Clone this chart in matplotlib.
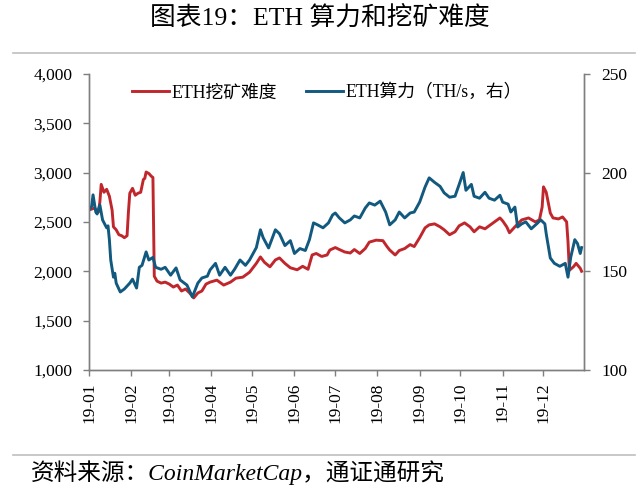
import numpy as np
import matplotlib
matplotlib.use("Agg")
import matplotlib.pyplot as plt
from matplotlib.ticker import FuncFormatter, MultipleLocator

plt.rcParams['font.family'] = ['Liberation Serif', 'Noto Sans CJK SC', 'DejaVu Sans']

# ETH mining difficulty (left axis), day offset from 2019-01-01
diff_days = [0, 4, 7, 8, 9, 11, 13, 15, 17, 18, 20, 22, 24, 26, 28, 29, 30, 32, 34, 36,
             38, 40, 41, 42, 44, 46, 47, 48, 50, 53, 56, 59, 62, 65, 68, 71, 74, 77, 80,
             83, 86, 89, 94, 99, 104, 108, 113, 118, 123, 126, 129, 133, 137, 140, 144,
             148, 153, 157, 161, 164, 167, 171, 175, 177, 181, 184, 188, 192, 195, 199,
             203, 206, 211, 216, 219, 221, 225, 228, 232, 236, 239, 243, 247, 250, 254,
             258, 261, 265, 269, 272, 276, 280, 283, 287, 291, 294, 298, 302, 304, 307,
             309, 313, 318, 323, 328, 331, 333, 334, 336, 339, 341, 345, 348, 351, 352,
             353, 356, 358, 361, 362]
diff_vals = [2620, 2640, 2600, 2700, 2880, 2800, 2830, 2760, 2620, 2450, 2420, 2370, 2360,
             2340, 2360, 2600, 2790, 2840, 2770, 2790, 2800, 2930, 2940, 3005, 2990, 2960,
             2950, 1950, 1900, 1880, 1890, 1870, 1840, 1860, 1800, 1820, 1780, 1730, 1780,
             1800, 1870, 1890, 1910, 1860, 1890, 1930, 1940, 1990, 2080, 2145, 2090, 2045,
             2115, 2135, 2080, 2035, 2015, 2050, 2020, 2165, 2180, 2150, 2165, 2215, 2240,
             2220, 2195, 2185, 2220, 2180, 2230, 2295, 2315, 2310, 2250, 2215, 2165, 2210,
             2230, 2270, 2250, 2340, 2440, 2470, 2480, 2450, 2420, 2370, 2400, 2460, 2490,
             2450, 2400, 2450, 2430, 2460, 2500, 2540, 2510, 2450, 2390, 2450, 2520, 2540,
             2500, 2520, 2650, 2855, 2800, 2590, 2540, 2530, 2550, 2500, 2300, 2010, 2045,
             2080, 2030, 2000]

# ETH hashrate TH/s (right axis)
hash_days = [0, 2, 3, 5, 6, 8, 10, 13, 14, 15, 16, 18, 19, 20, 23, 26, 30, 32, 35, 37,
             39, 42, 44, 47, 49, 53, 56, 60, 64, 67, 72, 76, 80, 83, 87, 89, 93, 96, 100,
             104, 107, 111, 115, 118, 123, 126, 128, 132, 137, 140, 144, 148, 151, 155,
             159, 162, 165, 168, 172, 176, 179, 181, 184, 188, 192, 195, 199, 203, 206,
             210, 214, 218, 221, 225, 228, 232, 236, 239, 243, 247, 250, 254, 258, 261,
             265, 269, 272, 275, 277, 281, 283, 287, 291, 294, 298, 302, 304, 308, 310,
             313, 315, 318, 321, 325, 329, 332, 335, 336, 339, 342, 346, 350, 352, 354,
             357, 359, 361, 362]
hash_vals = [181, 183, 188.7, 180, 179, 183.6, 176, 172, 173, 166, 155.7, 147, 149, 144,
             139.5, 141, 144, 146, 141.5, 152, 153, 159.8, 155.7, 157, 152, 151, 152, 148,
             151.7, 145.6, 143, 137, 144, 146.6, 147.5, 150.7, 154, 148, 152, 148, 151,
             155.7, 153, 155.7, 162, 171, 167, 161.8, 171, 169, 163, 165.5, 159, 161.5,
             160.5, 166, 174.5, 173.5, 172, 174.5, 178.5, 179.5, 177, 174.5, 176, 178, 177,
             182, 184.6, 183.5, 185.5, 180, 173.5, 176, 180, 177, 179.5, 180, 185, 192.7,
             197.3, 195, 193, 189.7, 187.5, 188, 193.9, 200, 191, 194, 188, 187, 190, 187,
             186, 188.5, 185, 184, 180, 182.5, 172.4, 174, 175, 171.5, 174, 176, 174, 169,
             156.7, 154, 152.5, 154, 147, 157, 166, 164, 159, 162]

month_labels = ['19-01', '19-02', '19-03', '19-04', '19-05', '19-06',
                '19-07', '19-08', '19-09', '19-10', '19-11', '19-12']

start = np.datetime64('2019-01-01')
diff_dates = start + np.array(diff_days).astype('timedelta64[D]')
hash_dates = start + np.array(hash_days).astype('timedelta64[D]')

red = '#C0272D'
blue = '#11597F'
spine_c = '#7F7F7F'

fig = plt.figure(figsize=(6.4, 4.92), dpi=100)
ax = fig.add_axes([0.139, 0.248, 0.774, 0.602])
ax2 = ax.twinx()

l1, = ax.plot(diff_dates, diff_vals, color=red, lw=2.1, label='ETH挖矿难度')
l2, = ax2.plot(hash_dates, hash_vals, color=blue, lw=2.1, label='ETH算力（TH/s，右）')
ax2.set_zorder(ax.get_zorder() + 1)
ax.patch.set_visible(False)

ax.set_xlim(np.datetime64('2019-01-01'), np.datetime64('2019-12-31'))
ax.set_ylim(1000, 4000)
ax2.set_ylim(100, 250)
ax.yaxis.set_major_locator(MultipleLocator(500))
ax2.yaxis.set_major_locator(MultipleLocator(50))
ax.yaxis.set_major_formatter(FuncFormatter(lambda v, p: f'{int(v):,}'))

ticks = [np.datetime64(f'2019-{m:02d}-01') for m in range(1, 13)]
ax.set_xticks(ticks)
ax.set_xticklabels(month_labels, rotation=90)

for a in (ax, ax2):
    for s in a.spines.values():
        s.set_color(spine_c)
        s.set_linewidth(1.0)
    a.spines['top'].set_visible(False)
    a.tick_params(colors=spine_c, labelcolor='black', labelsize=12.5, length=4,
                  width=1.0, direction='out')
ax.tick_params(axis='y', pad=8)
ax.tick_params(axis='x', pad=5)
ax2.tick_params(axis='y', pad=8)

leg = ax.legend(handles=[l1, l2], loc='upper center', bbox_to_anchor=(0.48, 1.02),
                ncol=2, frameon=False, fontsize=12.8, handlelength=2.1,
                handletextpad=0.15, columnspacing=1.6)

fig.text(0.5, 0.963, '图表19：ETH 算力和挖矿难度', ha='center', va='center', fontsize=18.5)
fig.add_artist(plt.Line2D([0.02, 0.992], [0.893, 0.893], color='#BFBFBF', lw=1.2))
fig.add_artist(plt.Line2D([0.02, 0.992], [0.076, 0.076], color='#BFBFBF', lw=1.2))
fig.text(0.048, 0.039, '资料来源：CoinMarketCap，通证通研究', ha='left', va='center',
         fontsize=17, style='italic')

fig.savefig('out.png', dpi=100)
